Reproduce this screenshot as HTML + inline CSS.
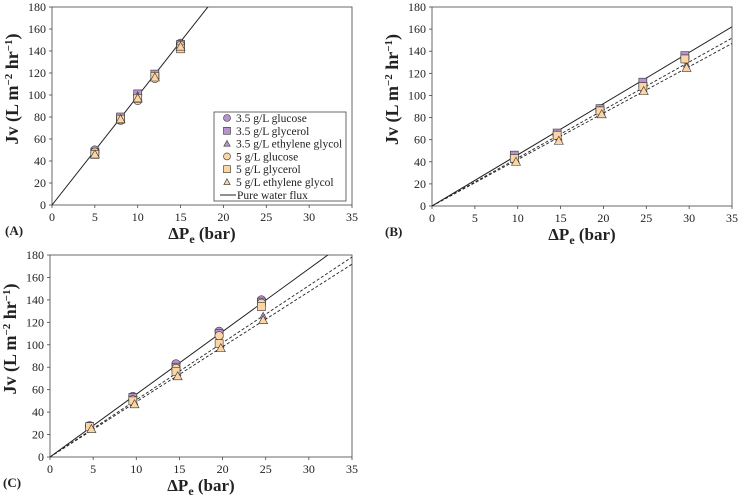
<!DOCTYPE html>
<html><head><meta charset="utf-8"><style>
body{margin:0;background:#fff}
svg{display:block;font-family:"Liberation Serif",serif}
</style></head><body>
<svg id="chart" width="742" height="500" viewBox="0 0 742 500" xmlns="http://www.w3.org/2000/svg"></svg>
<script>
const xTicks=[0,5,10,15,20,25,30,35];
const yTicks=[0,20,40,60,80,100,120,140,160,180];
const seriesNames=["3.5 g/L glucose","3.5 g/L glycerol","3.5 g/L ethylene glycol","5 g/L glucose","5 g/L glycerol","5 g/L ethylene glycol"];
// Panel A
const aX=[5,8,10,12,15];
const aGlu35=[50,79,100,118,147];
const aGly35=[48,80,101,119,146];
const aEg35=[47,79,100,118,145];
const aGlu5=[48,77,95,115,145];
const aGly5=[46,78,97,117,142];
const aEg5=[46,78,97,116,144];
const aSlopes=[9.9];
// Panel B
const bX=[9.6,14.6,19.6,24.6,29.5];
const bXeg=[9.8,14.8,19.8,24.7,29.7];
const bGlu35=[45,65,88,111,135];
const bGly35=[46,66,88,112,136];
const bEg35=[42,62,85,106,128];
const bGlu5=[43,64,86,108,133];
const bGly5=[43,64,86,108,133];
const bEg5=[40,59,83,104,125];
const bSlopes=[4.63,4.34,4.2];
// Panel C
const cX=[4.6,9.6,14.6,19.6,24.5];
const cXeg=[4.8,9.8,14.8,19.8,24.7];
const cGlu35=[28,54,83,112,140];
const cGly35=[27,53,80,110,138];
const cEg35=[26,49,75,100,126];
const cGlu5=[27,51,79,108,137];
const cGly5=[27,50,76,101,134];
const cEg5=[25,47,72,97,122];
const cSlopes=[5.59,5.09,4.91];

const NS="http://www.w3.org/2000/svg";
const svg=document.getElementById('chart');
function mk(tag,attrs,parent){const e=document.createElementNS(NS,tag);for(const k in attrs)e.setAttribute(k,attrs[k]);(parent||svg).appendChild(e);return e;}
const PURPLE="#b792cf",ORANGE="#fcd5a5",STROKE="#333";

function marker(g,type,cx,cy,fill,small){
  let e;
  if(type==="circle"){e=mk('circle',{cx:cx,cy:cy,r:small?3.5:4.2,fill:fill,stroke:STROKE,'stroke-width':0.6},g);}
  else if(type==="square"){const s=small?7:8;e=mk('rect',{x:cx-s/2,y:cy-s/2,width:s,height:s,fill:fill,stroke:STROKE,'stroke-width':0.6},g);}
  else {const s=small?3.2:4.5;e=mk('polygon',{points:`${cx},${cy-s} ${cx+s},${cy+s*0.8} ${cx-s},${cy+s*0.8}`,fill:fill,stroke:STROKE,'stroke-width':0.6},g);}
  return e;
}

function panel(name,label,x0,x1,y0,y1,xs,xsEg,series,slopes){
  const g=mk('g',{},svg);
  
  
  const sx=v=>x0+(x1-x0)*v/35, sy=v=>y0-(y0-y1)*v/180;
  const clip=mk('clipPath',{id:'clip-'+name},g);
  mk('rect',{x:x0,y:y1,width:x1-x0,height:y0-y1},clip);
  const frame=mk('rect',{x:x0,y:y1,width:x1-x0,height:y0-y1,fill:'none',stroke:'#444','stroke-width':0.8},g);
  
  
  xTicks.forEach(t=>{
    mk('line',{x1:sx(t),x2:sx(t),y1:y0,y2:y0+3,stroke:'#444','stroke-width':0.8},g);
    const tx=mk('text',{x:sx(t),y:y0+16,'text-anchor':'middle','font-size':12,fill:'#222'},g);
    tx.textContent=t;
    
    
  });
  yTicks.forEach(t=>{
    mk('line',{x1:x0-3,x2:x0,y1:sy(t),y2:sy(t),stroke:'#444','stroke-width':0.8},g);
    const ty=mk('text',{x:x0-6,y:sy(t)+4,'text-anchor':'end','font-size':12,fill:'#222'},g);
    ty.textContent=t;
    
    
  });
  const xt=mk('text',{x:(x0+x1)/2,y:y0+34,'text-anchor':'middle','font-size':17,'font-weight':'bold',fill:'#222'},g);
  xt.innerHTML='ΔP<tspan font-size="12" dy="4">e</tspan><tspan dy="-4"> (bar)</tspan>';
  
  
  const yt=mk('text',{x:0,y:0,'text-anchor':'middle','font-size':18,'font-weight':'bold',fill:'#222',transform:`translate(${x0-34},${(y0+y1)/2-17}) rotate(-90)`},g);
  yt.innerHTML='Jv (L m<tspan font-size="11" dy="-6">−2</tspan><tspan dy="6"> hr</tspan><tspan font-size="11" dy="-6">−1</tspan><tspan dy="6">)</tspan>';
  
  
  const pl=mk('text',{x:x0-47,y:y0+30,'font-size':13,'font-weight':'bold',fill:'#222'},g);
  pl.textContent=label;
  
  
  const lg=mk('g',{'clip-path':`url(#clip-${name})`},g);
  slopes.forEach((s,i)=>{
    const l=mk('line',{x1:sx(0),y1:sy(0),x2:sx(35),y2:sy(35*s),stroke:'#222','stroke-width':i===0?1:0.9,'stroke-dasharray':i===0?'none':'3,2'},lg);
    
    
  });
  const types=["circle","square","triangle","circle","square","triangle"];
  const fills=[PURPLE,PURPLE,PURPLE,ORANGE,ORANGE,ORANGE];
  series.forEach((vals,si)=>{
    const xarr=(types[si]==="triangle"&&xsEg)?xsEg:xs;
    vals.forEach((v,i)=>{
      const m=marker(g,types[si],sx(xarr[i]),sy(v),fills[si],si===2);
      
      
    });
  });
  return g;
}
panel('panel-a','(A)',52,352,205,7,aX,null,[aGlu35,aGly35,aEg35,aGlu5,aGly5,aEg5],aSlopes);
panel('panel-b','(B)',432,732,206,7,bX,bXeg,[bGlu35,bGly35,bEg35,bGlu5,bGly5,bEg5],bSlopes);
panel('panel-c','(C)',50,352,457,255,cX,cXeg,[cGlu35,cGly35,cEg35,cGlu5,cGly5,cEg5],cSlopes);

// legend
const lg=mk('g',{},svg);


mk('rect',{x:214,y:112,width:132,height:89,fill:'#fff',stroke:'#444','stroke-width':0.8},lg);
const ltypes=["circle","square","triangle","circle","square","triangle"];
const lfills=[PURPLE,PURPLE,PURPLE,ORANGE,ORANGE,ORANGE];
seriesNames.forEach((n,i)=>{
  const y=118+i*12.8;
  const e=mk('g',{},lg);
  
  
  marker(e,ltypes[i],227,y,lfills[i],true);
  const t=mk('text',{x:236,y:y+4,'font-size':11.5,fill:'#222'},e);
  t.textContent=n;
});
const le=mk('g',{},lg);


mk('line',{x1:220,x2:236,y1:195,y2:195,stroke:'#222','stroke-width':1},le);
const lt=mk('text',{x:237,y:199,'font-size':11.5,fill:'#222'},le);
lt.textContent='Pure water flux';
</script>
</body></html>
